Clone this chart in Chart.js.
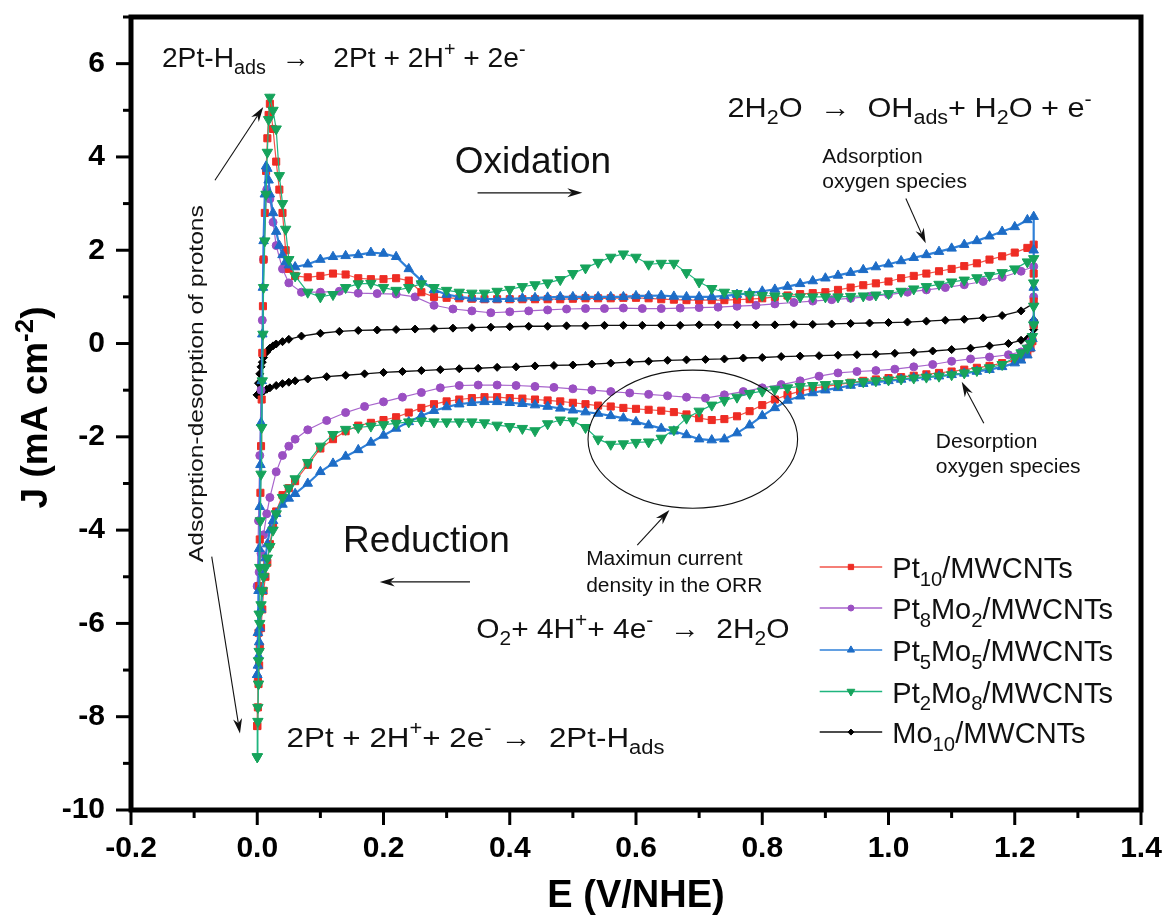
<!DOCTYPE html>
<html>
<head>
<meta charset="utf-8">
<title>CV of Pt-Mo/MWCNTs</title>
<script src="https://cdn.jsdelivr.net/npm/chart.js@4.4.1/dist/chart.umd.min.js"></script>
<style>
  html, body { margin: 0; padding: 0; background: #fff; }
  #cv { display: block; }
</style>
</head>
<body>
<canvas id="cv" width="1166" height="917"></canvas>
<script>
// potential grids, V vs NHE: anodic sweep (0 -> 1.23) then cathodic sweep (1.23 -> 0)
const E_UP = [
  0, 0.001, 0.002, 0.003, 0.004, 0.005, 0.006, 0.007, 0.008, 0.009,
  0.010, 0.012, 0.014, 0.016, 0.018, 0.020, 0.025, 0.030, 0.035, 0.040,
  0.045, 0.050, 0.06, 0.08, 0.10, 0.12, 0.14, 0.16, 0.18, 0.20,
  0.22, 0.24, 0.26, 0.28, 0.30, 0.32, 0.34, 0.36, 0.38, 0.40,
  0.42, 0.44, 0.46, 0.48, 0.50, 0.52, 0.54, 0.56, 0.58, 0.60,
  0.62, 0.64, 0.66, 0.68, 0.70, 0.72, 0.74, 0.76, 0.78, 0.80,
  0.82, 0.84, 0.86, 0.88, 0.90, 0.92, 0.94, 0.96, 0.98, 1.00,
  1.02, 1.04, 1.06, 1.08, 1.10, 1.12, 1.14, 1.16, 1.18, 1.20,
  1.22, 1.23
];
const E_DN = [
  1.23, 1.23, 1.23, 1.228, 1.225, 1.22, 1.21, 1.20, 1.18, 1.16,
  1.14, 1.12, 1.10, 1.08, 1.06, 1.04, 1.02, 1.00, 0.98, 0.96,
  0.94, 0.92, 0.90, 0.88, 0.86, 0.84, 0.82, 0.80, 0.78, 0.76,
  0.74, 0.72, 0.70, 0.68, 0.66, 0.64, 0.62, 0.60, 0.58, 0.56,
  0.54, 0.52, 0.50, 0.48, 0.46, 0.44, 0.42, 0.40, 0.38, 0.36,
  0.34, 0.32, 0.30, 0.28, 0.26, 0.24, 0.22, 0.20, 0.18, 0.16,
  0.14, 0.12, 0.10, 0.08, 0.06, 0.050, 0.040, 0.030, 0.025, 0.020,
  0.016, 0.013, 0.010, 0.008, 0.006, 0.004, 0.003, 0.002, 0.001, 0
];
// coarser grids for the Pt8Mo2 and Mo10 curves
const E_UP_C = [
  0, 0.002, 0.004, 0.006, 0.008, 0.010, 0.015, 0.020, 0.025, 0.030,
  0.040, 0.050, 0.07, 0.10, 0.13, 0.16, 0.19, 0.22, 0.25, 0.28,
  0.31, 0.34, 0.37, 0.40, 0.43, 0.46, 0.49, 0.52, 0.55, 0.58,
  0.61, 0.64, 0.67, 0.70, 0.73, 0.76, 0.79, 0.82, 0.85, 0.88,
  0.91, 0.94, 0.97, 1.00, 1.03, 1.06, 1.09, 1.12, 1.15, 1.18,
  1.21, 1.23
];
const E_DN_C = [
  1.23, 1.23, 1.225, 1.22, 1.21, 1.19, 1.16, 1.13, 1.10, 1.07,
  1.04, 1.01, 0.98, 0.95, 0.92, 0.89, 0.86, 0.83, 0.80, 0.77,
  0.74, 0.71, 0.68, 0.65, 0.62, 0.59, 0.56, 0.53, 0.50, 0.47,
  0.44, 0.41, 0.38, 0.35, 0.32, 0.29, 0.26, 0.23, 0.20, 0.17,
  0.14, 0.11, 0.08, 0.06, 0.05, 0.04, 0.03, 0.02, 0.015, 0.01,
  0.006, 0.003, 0
];

// current density J, mA cm-2
const PT10_UP = [
  -8.2, -7.2, -6.2, -5.2, -4.2, -3.2, -2.2, -1.2, -0.2, 0.8,
  1.8, 2.8, 3.7, 4.4, 4.9, 5.14, 4.6, 3.9, 3.3, 2.8,
  2.0, 1.6, 1.45, 1.42, 1.45, 1.5, 1.48, 1.4, 1.38, 1.38,
  1.4, 1.35, 1.1, 1.0, 0.98, 0.97, 0.96, 0.95, 0.95, 0.95,
  0.95, 0.95, 0.95, 0.95, 0.96, 0.97, 0.97, 0.97, 0.98, 0.98,
  0.97, 0.95, 0.94, 0.93, 0.93, 0.93, 0.93, 0.94, 0.95, 0.97,
  1.0, 1.03, 1.06, 1.08, 1.1, 1.15, 1.2, 1.25, 1.29, 1.33,
  1.4, 1.45, 1.5, 1.55, 1.6, 1.66, 1.72, 1.8, 1.87, 1.95,
  2.05, 2.12
];
const PT10_DN = [
  1.5, 0.9, 0.4, 0.05, -0.1, -0.2, -0.3, -0.36, -0.42, -0.48,
  -0.52, -0.56, -0.6, -0.63, -0.66, -0.69, -0.72, -0.74, -0.77, -0.8,
  -0.84, -0.88, -0.92, -0.96, -1.02, -1.1, -1.2, -1.32, -1.45, -1.56,
  -1.62, -1.64, -1.6, -1.52, -1.47, -1.44, -1.42, -1.4, -1.38, -1.35,
  -1.33, -1.3, -1.27, -1.24, -1.22, -1.2, -1.18, -1.17, -1.15, -1.15,
  -1.17, -1.2, -1.24, -1.3, -1.38, -1.48, -1.58, -1.64, -1.7, -1.76,
  -1.88, -2.05, -2.25, -2.6, -2.95, -3.1, -3.25, -3.6, -3.9, -4.3,
  -4.7, -5.0, -5.3, -5.7, -6.1, -6.5, -6.9, -7.3, -7.8, -8.2
];
const PT5MO5_UP = [
  -7.1, -6.2, -5.3, -4.4, -3.5, -2.6, -1.7, -0.8, 0.2, 1.2,
  2.2, 3.2, 3.8, 3.75, 3.5, 3.2, 2.8, 2.4, 2.1, 1.9,
  1.75, 1.68, 1.64, 1.7, 1.8, 1.86, 1.88, 1.9, 1.95, 1.93,
  1.86, 1.6, 1.35, 1.15, 1.05, 1.0, 0.97, 0.95, 0.95, 0.96,
  0.97, 0.98, 0.99, 1.0, 1.0, 1.0, 1.0, 1.0, 1.0, 1.02,
  1.02, 1.03, 1.01, 1.0, 1.0, 1.0, 1.02, 1.05, 1.08, 1.12,
  1.16, 1.22, 1.28, 1.34, 1.4, 1.46, 1.52, 1.58, 1.64, 1.7,
  1.77, 1.84, 1.9, 1.97, 2.04, 2.12, 2.2, 2.3, 2.4, 2.5,
  2.65, 2.72
];
const PT5MO5_DN = [
  2.0, 1.2, 0.5, 0.1, -0.1, -0.25, -0.36, -0.42, -0.5, -0.56,
  -0.6, -0.64, -0.67, -0.7, -0.72, -0.74, -0.77, -0.8, -0.83, -0.86,
  -0.9, -0.95, -1.0, -1.06, -1.13, -1.22, -1.38, -1.55, -1.75, -1.92,
  -2.05, -2.07, -2.05, -1.96, -1.88, -1.82, -1.75, -1.68, -1.6, -1.55,
  -1.5, -1.47, -1.43, -1.39, -1.35, -1.32, -1.29, -1.27, -1.25, -1.25,
  -1.27, -1.3, -1.36, -1.44, -1.55, -1.68, -1.82, -1.97, -2.12, -2.28,
  -2.42, -2.57, -2.75, -3.0, -3.22, -3.32, -3.45, -3.65, -3.8, -4.0,
  -4.3, -4.6, -4.95, -5.3, -5.7, -6.1, -6.4, -6.7, -6.9, -7.1
];
const PT2MO8_UP = [
  -8.86, -7.8, -6.8, -5.8, -4.8, -3.8, -2.8, -1.8, -0.8, 0.2,
  1.2, 2.2, 3.2, 4.1, 4.8, 5.28, 5.0, 4.6, 3.6, 3.0,
  2.45, 1.8, 1.45, 1.1, 1.0, 1.05, 1.2, 1.28, 1.29, 1.2,
  1.14, 1.2, 1.28, 1.2, 1.14, 1.1, 1.08, 1.08, 1.12, 1.16,
  1.22, 1.26, 1.3, 1.37, 1.5, 1.62, 1.74, 1.85, 1.92, 1.85,
  1.7, 1.72, 1.72, 1.52, 1.32, 1.18, 1.1, 1.07, 1.05, 1.03,
  1.02, 1.01, 1.0, 1.0, 1.0, 1.0, 1.01, 1.02, 1.04, 1.07,
  1.12, 1.17, 1.22, 1.27, 1.32, 1.36, 1.41, 1.46, 1.52, 1.6,
  1.75, 1.82
];
const PT2MO8_DN = [
  1.3, 0.8, 0.4, 0.15, 0.0, -0.1, -0.2, -0.3, -0.45, -0.52,
  -0.58, -0.63, -0.67, -0.7, -0.72, -0.74, -0.76, -0.78, -0.8, -0.82,
  -0.84, -0.86, -0.88, -0.9, -0.92, -0.95, -0.98, -1.02, -1.07, -1.15,
  -1.22, -1.32, -1.45, -1.6, -1.85, -2.03, -2.11, -2.12, -2.15, -2.16,
  -2.05, -1.8, -1.66, -1.64, -1.72, -1.87, -1.82, -1.78, -1.75, -1.7,
  -1.68, -1.68, -1.68, -1.68, -1.66, -1.68, -1.71, -1.74, -1.77, -1.8,
  -1.84, -1.95, -2.2, -2.55, -2.9, -3.1, -3.3, -3.65, -4.0, -4.35,
  -4.6, -4.8, -5.0, -5.3, -5.6, -6.0, -6.6, -7.3, -8.1, -8.86
];
const PT8MO2_UP = [
  -5.2, -3.8, -2.4, -1.0, 0.5, 1.8, 3.3, 3.1, 2.6, 2.1,
  1.6, 1.3, 1.1, 1.1, 1.12, 1.08, 1.07, 1.06, 1.0, 0.82,
  0.74, 0.7, 0.66, 0.68, 0.7, 0.72, 0.74, 0.75, 0.75, 0.76,
  0.75, 0.75, 0.76, 0.77, 0.78, 0.8, 0.82, 0.85, 0.88, 0.91,
  0.94, 0.97, 1.01, 1.05, 1.1, 1.15, 1.2, 1.26, 1.33, 1.42,
  1.55, 1.65
];
const PT8MO2_DN = [
  1.0, 0.4, 0.05, -0.1, -0.18, -0.24, -0.29, -0.33, -0.38, -0.45,
  -0.5, -0.55, -0.58, -0.6, -0.63, -0.7, -0.8, -0.88, -0.95, -1.03,
  -1.1, -1.17, -1.15, -1.12, -1.09, -1.06, -1.03, -1.0, -0.97, -0.94,
  -0.92, -0.9, -0.89, -0.89, -0.9, -0.95, -1.05, -1.15, -1.25, -1.35,
  -1.48, -1.65, -1.85, -2.05, -2.2, -2.4, -2.75, -3.3, -3.65, -4.1,
  -4.5, -4.9, -5.2
];
const MO10_UP = [
  -1.1, -0.85, -0.65, -0.5, -0.4, -0.3, -0.18, -0.1, -0.05, -0.01,
  0.04, 0.09, 0.16, 0.22, 0.26, 0.28, 0.29, 0.3, 0.31, 0.32,
  0.33, 0.34, 0.35, 0.36, 0.37, 0.37, 0.38, 0.38, 0.39, 0.39,
  0.39, 0.39, 0.39, 0.4, 0.4, 0.4, 0.4, 0.4, 0.41, 0.41,
  0.42, 0.43, 0.44, 0.45, 0.46, 0.48, 0.5, 0.52, 0.55, 0.6,
  0.7, 0.86
];
const MO10_DN = [
  0.5, 0.3, 0.15, 0.1, 0.07, 0.0, -0.05, -0.1, -0.13, -0.16,
  -0.19, -0.21, -0.23, -0.24, -0.25, -0.26, -0.27, -0.28, -0.3, -0.31,
  -0.33, -0.34, -0.35, -0.36, -0.38, -0.4, -0.42, -0.44, -0.46, -0.47,
  -0.48, -0.5, -0.51, -0.53, -0.54, -0.56, -0.58, -0.6, -0.62, -0.65,
  -0.68, -0.71, -0.76, -0.8, -0.83, -0.86, -0.9, -0.95, -0.98, -1.02,
  -1.05, -1.08, -1.1
];

// legend names: plain text and subscripts
const SERIES_NAMES = [
  [['Pt'], ['10', 'sub'], ['/MWCNTs']],
  [['Pt'], ['8', 'sub'], ['Mo'], ['2', 'sub'], ['/MWCNTs']],
  [['Pt'], ['5', 'sub'], ['Mo'], ['5', 'sub'], ['/MWCNTs']],
  [['Pt'], ['2', 'sub'], ['Mo'], ['8', 'sub'], ['/MWCNTs']],
  [['Mo'], ['10', 'sub'], ['/MWCNTs']]
];

const X_MIN = -0.2, X_MAX = 1.4, Y_MIN = -10, Y_MAX = 7;

const FF = '"Liberation Sans", Arial, Helvetica, sans-serif';

function loop(eUp, jUp, eDn, jDn) {
  const pts = [];
  eUp.forEach((e, i) => pts.push({ x: e, y: jUp[i] }));
  eDn.forEach((e, i) => pts.push({ x: e, y: jDn[i] }));
  return pts;
}

const STYLES = [
  { line: '#f2544a', mark: '#ee2c24', shape: 'rect', r: 5, rot: 0, order: 3, lw: 1.2 },
  { line: '#a865cc', mark: '#9a4fc2', shape: 'circle', r: 4, rot: 0, order: 4, lw: 1.2 },
  { line: '#2f80d8', mark: '#1d6cc6', shape: 'triangle', r: 5.5, rot: 0, order: 2, lw: 2.2 },
  { line: '#1fb57e', mark: '#16a35b', shape: 'triangle', r: 6, rot: 180, order: 1, lw: 1.2 },
  { line: '#111111', mark: '#000000', shape: 'rectRot', r: 4, rot: 0, order: 5, lw: 1.3 }
];

const CURVES = [
  loop(E_UP, PT10_UP, E_DN, PT10_DN),
  loop(E_UP_C, PT8MO2_UP, E_DN_C, PT8MO2_DN),
  loop(E_UP, PT5MO5_UP, E_DN, PT5MO5_DN),
  loop(E_UP, PT2MO8_UP, E_DN, PT2MO8_DN),
  loop(E_UP_C, MO10_UP, E_DN_C, MO10_DN)
];

const datasets = CURVES.map((pts, i) => {
  const s = STYLES[i];
  return {
    label: SERIES_NAMES[i].map(p => p[0]).join(''),
    data: pts,
    showLine: true,
    tension: 0,
    borderColor: s.line,
    borderWidth: s.lw,
    pointStyle: s.shape,
    pointRotation: s.rot,
    pointRadius: s.r,
    pointBackgroundColor: s.mark,
    pointBorderColor: s.mark,
    pointBorderWidth: 1,
    order: s.order
  };
});

// text with sub/superscripts, optionally stretched to a given width
const SMALL = 0.7;
function richWidth(ctx, parts, size, weight) {
  let w = 0;
  for (const [t, m] of parts) {
    ctx.font = `${weight || 'normal'} ${m ? size * SMALL : size}px ${FF}`;
    w += ctx.measureText(t).width;
  }
  return w;
}
function richText(ctx, parts, x, y, size, weight, fitW) {
  ctx.save();
  ctx.translate(x, y);
  if (fitW) ctx.scale(fitW / richWidth(ctx, parts, size, weight), 1);
  let cx = 0;
  ctx.textAlign = 'left';
  ctx.textBaseline = 'alphabetic';
  for (const [t, m] of parts) {
    ctx.font = `${weight || 'normal'} ${m ? size * SMALL : size}px ${FF}`;
    const dy = m === 'sub' ? size * 0.26 : m === 'sup' ? -size * 0.4 : 0;
    ctx.fillText(t, cx, dy);
    cx += ctx.measureText(t).width;
  }
  ctx.restore();
}
function arrow(ctx, x1, y1, x2, y2) {
  const a = Math.atan2(y2 - y1, x2 - x1), L = 15, W = 4.5;
  const c = Math.cos(a), s = Math.sin(a);
  ctx.beginPath();
  ctx.moveTo(x1, y1);
  ctx.lineTo(x2 - L * 0.7 * c, y2 - L * 0.7 * s);
  ctx.stroke();
  ctx.beginPath();
  ctx.moveTo(x2, y2);
  ctx.lineTo(x2 - L * c + W * s, y2 - L * s - W * c);
  ctx.lineTo(x2 - L * 0.7 * c, y2 - L * 0.7 * s);
  ctx.lineTo(x2 - L * c - W * s, y2 - L * s + W * c);
  ctx.closePath();
  ctx.fill();
}

const annotations = {
  id: 'annotations',
  afterDatasetsDraw(chart) {
    const { ctx, scales: { x, y } } = chart;
    const X = v => x.getPixelForValue(v), Y = v => y.getPixelForValue(v);
    ctx.save();
    ctx.fillStyle = '#111';
    ctx.strokeStyle = '#111';
    ctx.lineWidth = 1.1;

    // reaction equations
    richText(ctx, [['2Pt-H'], ['ads', 'sub'], ['  \u2192   2Pt + 2H'], ['+', 'sup'], [' + 2e'], ['-', 'sup']],
      X(-0.151), Y(5.93), 28, 'normal', X(0.425) - X(-0.151));
    richText(ctx, [['2H'], ['2', 'sub'], ['O  \u2192  OH'], ['ads', 'sub'], ['+ H'], ['2', 'sub'], ['O + e'], ['-', 'sup']],
      X(0.745), Y(4.86), 28, 'normal', X(1.322) - X(0.745));
    richText(ctx, [['O'], ['2', 'sub'], ['+ 4H'], ['+', 'sup'], ['+ 4e'], ['-', 'sup'], ['  \u2192  2H'], ['2', 'sub'], ['O']],
      X(0.347), Y(-6.31), 28, 'normal', X(0.843) - X(0.347));
    richText(ctx, [['2Pt + 2H'], ['+', 'sup'], ['+ 2e'], ['-', 'sup'], [' \u2192  2Pt-H'], ['ads', 'sub']],
      X(0.0465), Y(-8.64), 28, 'normal', X(0.645) - X(0.0465));

    // sweep directions
    richText(ctx, [['Oxidation']], X(0.313), Y(3.65), 37);
    arrow(ctx, X(0.349), Y(3.23), X(0.515), Y(3.23));
    richText(ctx, [['Reduction']], X(0.136), Y(-4.47), 37);
    arrow(ctx, X(0.337), Y(-5.11), X(0.194), Y(-5.11));

    // small notes
    richText(ctx, [['Adsorption']], X(0.895), Y(3.87), 21);
    richText(ctx, [['oxygen species']], X(0.895), Y(3.33), 21);
    arrow(ctx, X(1.0275), Y(3.11), X(1.059), Y(2.15));
    richText(ctx, [['Desorption']], X(1.075), Y(-2.24), 21);
    richText(ctx, [['oxygen species']], X(1.075), Y(-2.78), 21);
    arrow(ctx, X(1.151), Y(-1.71), X(1.116), Y(-0.82));
    richText(ctx, [['Maximun current']], X(0.521), Y(-4.75), 21);
    richText(ctx, [['density in the ORR']], X(0.521), Y(-5.32), 21);
    arrow(ctx, X(0.602), Y(-4.32), X(0.653), Y(-3.57));

    // ORR region
    ctx.beginPath();
    ctx.ellipse(X(0.69), Y(-2.05), X(0.856) - X(0.69), Y(-3.53) - Y(-2.05), 0, 0, Math.PI * 2);
    ctx.stroke();

    // hydrogen region
    arrow(ctx, X(-0.067), Y(3.5), X(0.0095), Y(5.07));
    arrow(ctx, X(-0.0721), Y(-4.57), X(-0.0274), Y(-8.36));
    const vt = 'Adsorption-desorption of protons';
    ctx.save();
    ctx.translate(X(-0.0985), Y(-0.86));
    ctx.rotate(-Math.PI / 2);
    ctx.font = `21px ${FF}`;
    const w = ctx.measureText(vt).width;
    ctx.scale(357 / w, 1);
    ctx.textAlign = 'center';
    ctx.textBaseline = 'alphabetic';
    ctx.fillText(vt, 0, 21 * 0.36);
    ctx.restore();

    // legend
    const rows = [-4.79, -5.67, -6.57, -7.46, -8.33];
    const x1 = X(0.891), x2 = X(0.99), tx = X(1.006);
    chart.data.datasets.forEach((ds, i) => {
      const py = Y(rows[i]);
      ctx.strokeStyle = ds.borderColor;
      ctx.lineWidth = 1.5;
      ctx.beginPath();
      ctx.moveTo(x1, py);
      ctx.lineTo(x2, py);
      ctx.stroke();
      ctx.fillStyle = ds.pointBackgroundColor;
      ctx.strokeStyle = ds.pointBorderColor;
      ctx.lineWidth = 1;
      Chart.helpers.drawPoint(ctx, { pointStyle: ds.pointStyle, rotation: ds.pointRotation, radius: ds.pointRadius * 0.75, borderWidth: 1 }, (x1 + x2) / 2, py);
      ctx.fillStyle = '#111';
      richText(ctx, SERIES_NAMES[i], tx, py + 11, 29);
    });
    ctx.restore();
  },
  afterDraw(chart) {
    const { ctx, chartArea: a, scales: { x, y } } = chart;
    ctx.save();
    ctx.strokeStyle = '#000';
    ctx.lineWidth = 3;
    x.ticks.forEach(t => {
      const px = x.getPixelForValue(t.value);
      ctx.beginPath();
      ctx.moveTo(px, a.bottom);
      ctx.lineTo(px, a.bottom + (t.label !== '' ? 15 : 8));
      ctx.stroke();
    });
    y.ticks.forEach(t => {
      const py = y.getPixelForValue(t.value);
      ctx.beginPath();
      ctx.moveTo(a.left, py);
      ctx.lineTo(a.left - (t.label !== '' ? 15 : 8), py);
      ctx.stroke();
    });
    ctx.lineWidth = 5;
    ctx.strokeRect(a.left, a.top, a.right - a.left, a.bottom - a.top);

    // y axis title with superscript
    const parts = [['J (mA cm'], ['-2', 'sup'], [')']];
    ctx.fillStyle = '#000';
    ctx.translate(34, (a.top + a.bottom) / 2 - 6);
    ctx.rotate(-Math.PI / 2);
    const w = richWidth(ctx, parts, 37, 'bold');
    richText(ctx, parts, -w / 2, 37 * 0.36, 37, 'bold');
    ctx.restore();
  }
};

new Chart(document.getElementById('cv'), {
  type: 'scatter',
  data: { datasets },
  options: {
    responsive: false,
    animation: false,
    devicePixelRatio: 1,
    layout: { padding: { top: 17, right: 25, left: 0, bottom: 0 } },
    plugins: { legend: { display: false }, tooltip: { enabled: false } },
    scales: {
      x: {
        type: 'linear',
        min: X_MIN,
        max: X_MAX,
        ticks: {
          stepSize: 0.1,
          autoSkip: false,
          maxRotation: 0,
          padding: 6,
          color: '#000',
          font: { family: FF, size: 30, weight: 'bold' },
          callback: v => {
            const k = Math.round(v * 10);
            return k % 2 === 0 ? (k / 10).toFixed(1) : '';
          }
        },
        grid: { drawOnChartArea: false, tickLength: 15, tickColor: 'rgba(0,0,0,0)' },
        border: { display: false },
        title: {
          display: true,
          text: 'E (V/NHE)',
          color: '#000',
          padding: { top: 0, bottom: 0 },
          font: { family: FF, size: 38, weight: 'bold', lineHeight: 1.1 }
        },
        afterFit: s => {
          s.height = 107;
          s.paddingLeft = 0;
          s.paddingRight = 0;
        }
      },
      y: {
        type: 'linear',
        min: Y_MIN,
        max: Y_MAX,
        ticks: {
          stepSize: 1,
          autoSkip: false,
          padding: 11,
          color: '#000',
          font: { family: FF, size: 30, weight: 'bold' },
          callback: v => (v % 2 === 0 ? String(v) : '')
        },
        grid: { drawOnChartArea: false, tickLength: 15, tickColor: 'rgba(0,0,0,0)' },
        border: { display: false },
        afterFit: s => {
          s.width = 131;
          s.paddingTop = 0;
          s.paddingBottom = 0;
        }
      }
    }
  },
  plugins: [annotations]
});
</script>
</body>
</html>
